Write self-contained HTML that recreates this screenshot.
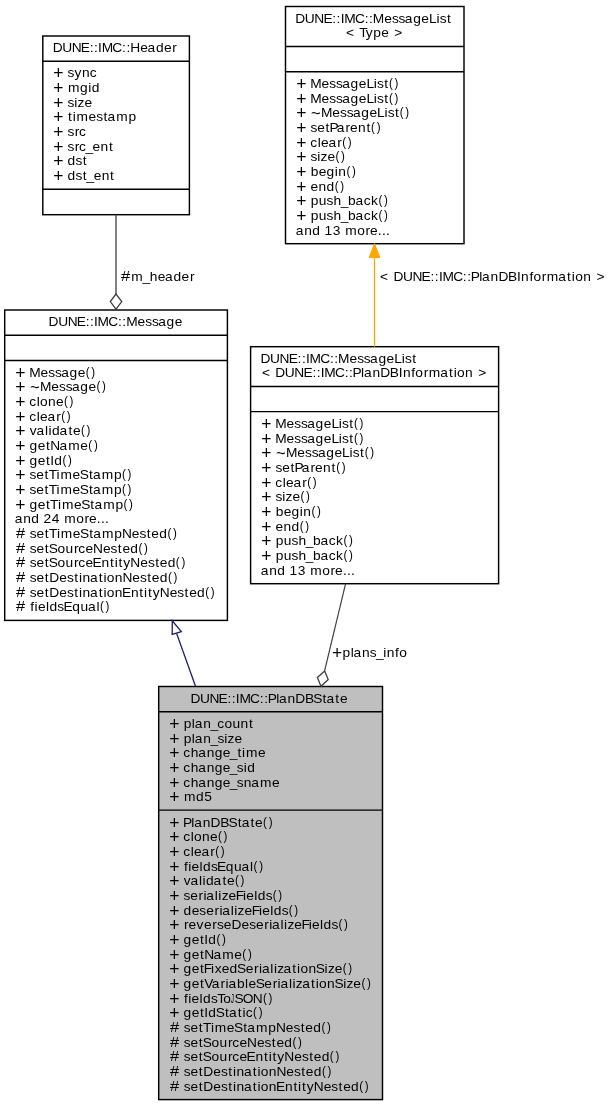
<!DOCTYPE html>
<html><head><meta charset="utf-8"><style>
html,body{margin:0;padding:0;background:#fff;}
svg{display:block;will-change:transform;}
text{font-family:"Liberation Sans",sans-serif;font-size:13.1px;}
</style></head><body>
<svg width="611" height="1107" viewBox="0 0 611 1107">
<rect x="0" y="0" width="611" height="1107" fill="#fff"/>
<rect x="42.8" y="36" width="146.60" height="178.70" fill="#fff" stroke="#000" stroke-width="1.45"/>
<line x1="42.8" y1="61.2" x2="189.4" y2="61.2" stroke="#000" stroke-width="1.45"/>
<line x1="42.8" y1="189.3" x2="189.4" y2="189.3" stroke="#000" stroke-width="1.45"/>
<text transform="scale(1.05,1)" x="50.14 59.26 68.27 76.98 85.48 89.58 93.42 96.83 106.98 116.27 120.37 124.08 133.51 140.50 148.49 156.19 164.10" y="52" fill="#000">DUNE::IMC::Header</text>
<text x="53.14" y="78.54" style="font-size:17.5px" fill="#000">+</text>
<text transform="scale(1.05,1)" x="64.19 70.87 77.99 85.39" y="77" fill="#000">sync</text>
<text x="53.14" y="93.54" style="font-size:17.5px" fill="#000">+</text>
<text transform="scale(1.05,1)" x="64.71 76.21 84.03 87.32" y="92" fill="#000">mgid</text>
<text x="53.14" y="108.54" style="font-size:17.5px" fill="#000">+</text>
<text transform="scale(1.05,1)" x="64.19 70.79 73.91 80.44" y="107" fill="#000">size</text>
<text x="53.14" y="122.54" style="font-size:17.5px" fill="#000">+</text>
<text transform="scale(1.05,1)" x="64.74 69.22 72.86 84.34 91.69 98.58 102.44 110.78 122.43" y="121" fill="#000">timestamp</text>
<text x="53.14" y="137.54" style="font-size:17.5px" fill="#000">+</text>
<text transform="scale(1.05,1)" x="64.19 71.09 75.21" y="136" fill="#000">src</text>
<text x="53.14" y="152.54" style="font-size:17.5px" fill="#000">+</text>
<text transform="scale(1.05,1)" x="64.19 71.09 75.21 81.40 88.19 95.79 103.80" y="151" fill="#000">src_ent</text>
<text x="53.14" y="166.54" style="font-size:17.5px" fill="#000">+</text>
<text transform="scale(1.05,1)" x="64.36 71.91 78.81" y="165" fill="#000">dst</text>
<text x="53.14" y="181.54" style="font-size:17.5px" fill="#000">+</text>
<text transform="scale(1.05,1)" x="64.36 71.91 78.81 82.47 89.26 96.86 104.87" y="180" fill="#000">dst_ent</text>
<rect x="285.5" y="6.5" width="178.50" height="237.20" fill="#fff" stroke="#000" stroke-width="1.45"/>
<line x1="285.5" y1="46.5" x2="464.0" y2="46.5" stroke="#000" stroke-width="1.45"/>
<line x1="285.5" y1="71.8" x2="464.0" y2="71.8" stroke="#000" stroke-width="1.45"/>
<text transform="scale(1.05,1)" x="281.16 290.28 299.29 308.00 316.50 320.60 324.44 327.85 338.00 347.29 351.39 355.05 365.88 373.23 379.57 385.55 393.54 401.24 408.59 415.62 418.75 425.64" y="23" fill="#000">DUNE::IMC::MessageList</text>
<text transform="scale(1.05,1)" x="329.60 342.12 348.26 355.43 362.99 375.49" y="37" fill="#000">&lt;Type&gt;</text>
<text x="296.14" y="89.54" style="font-size:17.5px" fill="#000">+</text>
<text transform="scale(0.95,1)" x="409.52" y="86.8" style="font-size:12.2px" fill="#000">(</text>
<text transform="scale(0.95,1)" x="415.37" y="86.8" style="font-size:12.2px" fill="#000">)</text>
<text transform="scale(1.05,1)" x="295.43 306.26 313.61 319.95 325.93 333.92 341.62 348.97 356.00 359.13 366.02" y="88" fill="#000">MessageList</text>
<text x="296.14" y="104.54" style="font-size:17.5px" fill="#000">+</text>
<text transform="scale(0.95,1)" x="409.52" y="101.8" style="font-size:12.2px" fill="#000">(</text>
<text transform="scale(0.95,1)" x="415.37" y="101.8" style="font-size:12.2px" fill="#000">)</text>
<text transform="scale(1.05,1)" x="295.43 306.26 313.61 319.95 325.93 333.92 341.62 348.97 356.00 359.13 366.02" y="103" fill="#000">MessageList</text>
<text x="296.14" y="118.54" style="font-size:17.5px" fill="#000">+</text>
<text transform="scale(1.0,1)" x="310.95" y="118.5" style="font-size:16.5px" fill="#000">~</text>
<text transform="scale(0.95,1)" x="420.79" y="115.8" style="font-size:12.2px" fill="#000">(</text>
<text transform="scale(0.95,1)" x="426.65" y="115.8" style="font-size:12.2px" fill="#000">)</text>
<text transform="scale(1.05,1)" x="305.63 316.46 323.81 330.15 336.13 344.11 351.82 359.17 366.20 369.32 376.22" y="117" fill="#000">MessageList</text>
<text x="296.14" y="133.54" style="font-size:17.5px" fill="#000">+</text>
<text transform="scale(0.95,1)" x="390.67" y="130.8" style="font-size:12.2px" fill="#000">(</text>
<text transform="scale(0.95,1)" x="396.52" y="130.8" style="font-size:12.2px" fill="#000">)</text>
<text transform="scale(1.05,1)" x="295.62 302.10 310.00 313.74 320.65 329.04 333.35 340.95 348.96" y="132" fill="#000">setParent</text>
<text x="296.14" y="148.54" style="font-size:17.5px" fill="#000">+</text>
<text transform="scale(0.95,1)" x="360.23" y="145.8" style="font-size:12.2px" fill="#000">(</text>
<text transform="scale(0.95,1)" x="366.08" y="145.8" style="font-size:12.2px" fill="#000">)</text>
<text transform="scale(1.05,1)" x="295.56 302.56 305.83 312.82 321.20" y="147" fill="#000">clear</text>
<text x="296.14" y="162.54" style="font-size:17.5px" fill="#000">+</text>
<text transform="scale(0.95,1)" x="353.13" y="159.8" style="font-size:12.2px" fill="#000">(</text>
<text transform="scale(0.95,1)" x="358.98" y="159.8" style="font-size:12.2px" fill="#000">)</text>
<text transform="scale(1.05,1)" x="295.62 302.22 305.34 311.87" y="161" fill="#000">size</text>
<text x="296.14" y="177.54" style="font-size:17.5px" fill="#000">+</text>
<text transform="scale(0.95,1)" x="364.66" y="174.8" style="font-size:12.2px" fill="#000">(</text>
<text transform="scale(0.95,1)" x="370.52" y="174.8" style="font-size:12.2px" fill="#000">)</text>
<text transform="scale(1.05,1)" x="295.93 303.49 311.00 318.82 322.20" y="176" fill="#000">begin</text>
<text x="296.14" y="192.54" style="font-size:17.5px" fill="#000">+</text>
<text transform="scale(0.95,1)" x="352.39" y="189.8" style="font-size:12.2px" fill="#000">(</text>
<text transform="scale(0.95,1)" x="358.24" y="189.8" style="font-size:12.2px" fill="#000">)</text>
<text transform="scale(1.05,1)" x="295.76 303.36 310.99" y="191" fill="#000">end</text>
<text x="296.14" y="206.54" style="font-size:17.5px" fill="#000">+</text>
<text transform="scale(0.95,1)" x="398.34" y="203.8" style="font-size:12.2px" fill="#000">(</text>
<text transform="scale(0.95,1)" x="404.19" y="203.8" style="font-size:12.2px" fill="#000">)</text>
<text transform="scale(1.05,1)" x="295.93 303.55 311.06 317.64 324.56 331.51 338.56 346.32 353.43" y="205" fill="#000">push_back</text>
<text x="296.14" y="221.54" style="font-size:17.5px" fill="#000">+</text>
<text transform="scale(0.95,1)" x="398.34" y="218.8" style="font-size:12.2px" fill="#000">(</text>
<text transform="scale(0.95,1)" x="404.19" y="218.8" style="font-size:12.2px" fill="#000">)</text>
<text transform="scale(1.05,1)" x="295.93 303.55 311.06 317.64 324.56 331.51 338.56 346.32 353.43" y="220" fill="#000">push_back</text>
<text transform="scale(1.05,1)" x="281.75 289.83 297.45 309.05 316.88 328.75 340.19 348.10 352.42 359.89 363.76 367.63" y="235" fill="#000">and13more...</text>
<rect x="4.7" y="310.0" width="222.70" height="310.40" fill="#fff" stroke="#000" stroke-width="1.45"/>
<line x1="4.7" y1="335.2" x2="227.4" y2="335.2" stroke="#000" stroke-width="1.45"/>
<line x1="4.7" y1="360.5" x2="227.4" y2="360.5" stroke="#000" stroke-width="1.45"/>
<text transform="scale(1.05,1)" x="46.30 55.43 64.43 73.14 81.64 85.74 89.58 92.99 103.15 112.43 116.53 120.20 131.03 138.37 144.71 150.69 158.68 166.38" y="326" fill="#000">DUNE::IMC::Message</text>
<text x="15.14" y="378.54" style="font-size:17.5px" fill="#000">+</text>
<text transform="scale(0.95,1)" x="90.21" y="375.8" style="font-size:12.2px" fill="#000">(</text>
<text transform="scale(0.95,1)" x="96.07" y="375.8" style="font-size:12.2px" fill="#000">)</text>
<text transform="scale(1.05,1)" x="27.81 38.64 45.99 52.33 58.31 66.30 74.00" y="377" fill="#000">Message</text>
<text x="15.14" y="392.54" style="font-size:17.5px" fill="#000">+</text>
<text transform="scale(1.0,1)" x="29.95" y="392.5" style="font-size:16.5px" fill="#000">~</text>
<text transform="scale(0.95,1)" x="101.49" y="389.8" style="font-size:12.2px" fill="#000">(</text>
<text transform="scale(0.95,1)" x="107.34" y="389.8" style="font-size:12.2px" fill="#000">)</text>
<text transform="scale(1.05,1)" x="38.01 48.84 56.19 62.53 68.51 76.50 84.20" y="391" fill="#000">Message</text>
<text x="15.14" y="407.54" style="font-size:17.5px" fill="#000">+</text>
<text transform="scale(0.95,1)" x="67.42" y="404.8" style="font-size:12.2px" fill="#000">(</text>
<text transform="scale(0.95,1)" x="73.28" y="404.8" style="font-size:12.2px" fill="#000">)</text>
<text transform="scale(1.05,1)" x="27.94 34.94 38.17 45.78 53.38" y="406" fill="#000">clone</text>
<text x="15.14" y="422.54" style="font-size:17.5px" fill="#000">+</text>
<text transform="scale(0.95,1)" x="64.44" y="419.8" style="font-size:12.2px" fill="#000">(</text>
<text transform="scale(0.95,1)" x="70.29" y="419.8" style="font-size:12.2px" fill="#000">)</text>
<text transform="scale(1.05,1)" x="27.94 34.94 38.22 45.20 53.58" y="421" fill="#000">clear</text>
<text x="15.14" y="436.54" style="font-size:17.5px" fill="#000">+</text>
<text transform="scale(0.95,1)" x="85.27" y="433.8" style="font-size:12.2px" fill="#000">(</text>
<text transform="scale(0.95,1)" x="91.12" y="433.8" style="font-size:12.2px" fill="#000">)</text>
<text transform="scale(1.05,1)" x="28.34 34.84 42.91 46.30 49.59 56.79 65.16 69.52" y="435" fill="#000">validate</text>
<text x="15.14" y="451.54" style="font-size:17.5px" fill="#000">+</text>
<text transform="scale(0.95,1)" x="93.03" y="448.8" style="font-size:12.2px" fill="#000">(</text>
<text transform="scale(0.95,1)" x="98.89" y="448.8" style="font-size:12.2px" fill="#000">)</text>
<text transform="scale(1.05,1)" x="28.17 35.87 43.76 47.82 56.73 65.07 76.55" y="450" fill="#000">getName</text>
<text x="15.14" y="466.54" style="font-size:17.5px" fill="#000">+</text>
<text transform="scale(0.95,1)" x="65.85" y="463.8" style="font-size:12.2px" fill="#000">(</text>
<text transform="scale(0.95,1)" x="71.71" y="463.8" style="font-size:12.2px" fill="#000">)</text>
<text transform="scale(1.05,1)" x="28.17 35.87 43.76 47.98 51.74" y="465" fill="#000">getId</text>
<text x="15.14" y="480.54" style="font-size:17.5px" fill="#000">+</text>
<text transform="scale(0.95,1)" x="128.44" y="477.8" style="font-size:12.2px" fill="#000">(</text>
<text transform="scale(0.95,1)" x="134.29" y="477.8" style="font-size:12.2px" fill="#000">)</text>
<text transform="scale(1.05,1)" x="28.00 34.48 42.38 46.34 53.92 57.56 69.04 75.96 84.66 88.52 96.87 108.51" y="479" fill="#000">setTimeStamp</text>
<text x="15.14" y="495.54" style="font-size:17.5px" fill="#000">+</text>
<text transform="scale(0.95,1)" x="128.44" y="492.8" style="font-size:12.2px" fill="#000">(</text>
<text transform="scale(0.95,1)" x="134.29" y="492.8" style="font-size:12.2px" fill="#000">)</text>
<text transform="scale(1.05,1)" x="28.00 34.48 42.38 46.34 53.92 57.56 69.04 75.96 84.66 88.52 96.87 108.51" y="494" fill="#000">setTimeStamp</text>
<text x="15.14" y="510.54" style="font-size:17.5px" fill="#000">+</text>
<text transform="scale(0.95,1)" x="129.97" y="507.8" style="font-size:12.2px" fill="#000">(</text>
<text transform="scale(0.95,1)" x="135.82" y="507.8" style="font-size:12.2px" fill="#000">)</text>
<text transform="scale(1.05,1)" x="28.17 35.87 43.76 47.72 55.30 58.95 70.43 77.35 86.05 89.91 98.25 109.90" y="509" fill="#000">getTimeStamp</text>
<text transform="scale(1.05,1)" x="14.13 22.21 29.83 41.34 49.24 61.14 72.57 80.48 84.80 92.27 96.14 100.01" y="523" fill="#000">and24more...</text>
<text transform="scale(1.127,1)" x="14.13" y="538" style="font-size:14.6px" fill="#000">#</text>
<text transform="scale(0.95,1)" x="176.26" y="536.8" style="font-size:12.2px" fill="#000">(</text>
<text transform="scale(0.95,1)" x="182.12" y="536.8" style="font-size:12.2px" fill="#000">)</text>
<text transform="scale(1.05,1)" x="28.35 34.83 42.73 46.69 54.27 57.91 69.39 76.31 85.01 88.87 97.22 108.86 116.11 125.53 132.87 139.76 144.13 151.64" y="538" fill="#000">setTimeStampNested</text>
<text transform="scale(1.127,1)" x="14.13" y="553" style="font-size:14.6px" fill="#000">#</text>
<text transform="scale(0.95,1)" x="145.84" y="551.8" style="font-size:12.2px" fill="#000">(</text>
<text transform="scale(0.95,1)" x="151.70" y="551.8" style="font-size:12.2px" fill="#000">)</text>
<text transform="scale(1.05,1)" x="28.35 34.83 42.73 46.53 54.78 62.33 70.40 74.52 81.41 88.59 98.00 105.35 112.24 116.60 124.12" y="553" fill="#000">setSourceNested</text>
<text transform="scale(1.127,1)" x="14.13" y="567" style="font-size:14.6px" fill="#000">#</text>
<text transform="scale(0.95,1)" x="185.12" y="565.8" style="font-size:12.2px" fill="#000">(</text>
<text transform="scale(0.95,1)" x="190.97" y="565.8" style="font-size:12.2px" fill="#000">)</text>
<text transform="scale(1.05,1)" x="28.35 34.83 42.73 46.53 54.78 62.33 70.40 74.52 81.41 88.20 96.70 104.71 109.19 112.86 117.43 124.12 133.54 140.88 147.77 152.14 159.65" y="567" fill="#000">setSourceEntityNested</text>
<text transform="scale(1.127,1)" x="14.13" y="582" style="font-size:14.6px" fill="#000">#</text>
<text transform="scale(0.95,1)" x="176.84" y="580.8" style="font-size:12.2px" fill="#000">(</text>
<text transform="scale(0.95,1)" x="182.69" y="580.8" style="font-size:12.2px" fill="#000">)</text>
<text transform="scale(1.05,1)" x="28.35 34.83 42.73 46.94 56.47 63.81 70.70 75.18 78.56 85.66 94.03 98.51 101.73 109.34 116.63 126.04 133.39 140.28 144.64 152.16" y="582" fill="#000">setDestinationNested</text>
<text transform="scale(1.127,1)" x="14.13" y="597" style="font-size:14.6px" fill="#000">#</text>
<text transform="scale(0.95,1)" x="216.11" y="595.8" style="font-size:12.2px" fill="#000">(</text>
<text transform="scale(0.95,1)" x="221.96" y="595.8" style="font-size:12.2px" fill="#000">)</text>
<text transform="scale(1.05,1)" x="28.35 34.83 42.73 46.94 56.47 63.81 70.70 75.18 78.56 85.66 94.03 98.51 101.73 109.34 116.24 124.74 132.75 137.23 140.90 145.47 152.16 161.58 168.92 175.81 180.18 187.69" y="597" fill="#000">setDestinationEntityNested</text>
<text transform="scale(1.127,1)" x="14.13" y="611" style="font-size:14.6px" fill="#000">#</text>
<text transform="scale(0.95,1)" x="105.22" y="609.8" style="font-size:12.2px" fill="#000">(</text>
<text transform="scale(0.95,1)" x="111.08" y="609.8" style="font-size:12.2px" fill="#000">)</text>
<text transform="scale(1.05,1)" x="28.84 32.89 36.16 43.76 47.05 54.61 60.40 68.81 76.57 83.72 91.79" y="611" fill="#000">fieldsEqual</text>
<rect x="250.6" y="346.7" width="248.00" height="237.00" fill="#fff" stroke="#000" stroke-width="1.45"/>
<line x1="250.6" y1="386.5" x2="498.6" y2="386.5" stroke="#000" stroke-width="1.45"/>
<line x1="250.6" y1="411.6" x2="498.6" y2="411.6" stroke="#000" stroke-width="1.45"/>
<text transform="scale(1.05,1)" x="248.11 257.24 266.24 274.95 283.45 287.55 291.39 294.80 304.96 314.24 318.34 322.00 332.83 340.18 346.52 352.50 360.49 368.19 375.54 382.58 385.70 392.59" y="363" fill="#000">DUNE::IMC::MessageList</text>
<text transform="scale(1.05,1)" x="249.41 262.18 271.30 280.31 289.02 297.52 301.62 305.46 308.87 319.02 328.31 332.41 335.77 343.85 346.62 354.70 362.14 371.32 379.87 383.72 391.67 395.56 403.47 408.22 419.19 427.56 432.05 435.27 442.87 455.49" y="377" fill="#000">&lt;DUNE::IMC::PlanDBInformation&gt;</text>
<text x="261.14" y="429.54" style="font-size:17.5px" fill="#000">+</text>
<text transform="scale(0.95,1)" x="372.68" y="426.8" style="font-size:12.2px" fill="#000">(</text>
<text transform="scale(0.95,1)" x="378.53" y="426.8" style="font-size:12.2px" fill="#000">)</text>
<text transform="scale(1.05,1)" x="262.10 272.93 280.27 286.62 292.59 300.58 308.28 315.64 322.67 325.79 332.68" y="428" fill="#000">MessageList</text>
<text x="261.14" y="444.54" style="font-size:17.5px" fill="#000">+</text>
<text transform="scale(0.95,1)" x="372.68" y="441.8" style="font-size:12.2px" fill="#000">(</text>
<text transform="scale(0.95,1)" x="378.53" y="441.8" style="font-size:12.2px" fill="#000">)</text>
<text transform="scale(1.05,1)" x="262.10 272.93 280.27 286.62 292.59 300.58 308.28 315.64 322.67 325.79 332.68" y="443" fill="#000">MessageList</text>
<text x="261.14" y="458.54" style="font-size:17.5px" fill="#000">+</text>
<text transform="scale(1.0,1)" x="275.95" y="458.5" style="font-size:16.5px" fill="#000">~</text>
<text transform="scale(0.95,1)" x="383.95" y="455.8" style="font-size:12.2px" fill="#000">(</text>
<text transform="scale(0.95,1)" x="389.80" y="455.8" style="font-size:12.2px" fill="#000">)</text>
<text transform="scale(1.05,1)" x="272.30 283.13 290.47 296.81 302.79 310.78 318.48 325.84 332.87 335.99 342.88" y="457" fill="#000">MessageList</text>
<text x="261.14" y="473.54" style="font-size:17.5px" fill="#000">+</text>
<text transform="scale(0.95,1)" x="353.83" y="470.8" style="font-size:12.2px" fill="#000">(</text>
<text transform="scale(0.95,1)" x="359.68" y="470.8" style="font-size:12.2px" fill="#000">)</text>
<text transform="scale(1.05,1)" x="262.28 268.77 276.66 280.40 287.32 295.70 300.02 307.62 315.63" y="472" fill="#000">setParent</text>
<text x="261.14" y="488.54" style="font-size:17.5px" fill="#000">+</text>
<text transform="scale(0.95,1)" x="323.39" y="485.8" style="font-size:12.2px" fill="#000">(</text>
<text transform="scale(0.95,1)" x="329.24" y="485.8" style="font-size:12.2px" fill="#000">)</text>
<text transform="scale(1.05,1)" x="262.23 269.23 272.50 279.48 287.87" y="487" fill="#000">clear</text>
<text x="261.14" y="502.54" style="font-size:17.5px" fill="#000">+</text>
<text transform="scale(0.95,1)" x="316.29" y="499.8" style="font-size:12.2px" fill="#000">(</text>
<text transform="scale(0.95,1)" x="322.14" y="499.8" style="font-size:12.2px" fill="#000">)</text>
<text transform="scale(1.05,1)" x="262.28 268.88 272.00 278.54" y="501" fill="#000">size</text>
<text x="261.14" y="517.54" style="font-size:17.5px" fill="#000">+</text>
<text transform="scale(0.95,1)" x="327.82" y="514.8" style="font-size:12.2px" fill="#000">(</text>
<text transform="scale(0.95,1)" x="333.68" y="514.8" style="font-size:12.2px" fill="#000">)</text>
<text transform="scale(1.05,1)" x="262.59 270.15 277.67 285.48 288.86" y="516" fill="#000">begin</text>
<text x="261.14" y="532.54" style="font-size:17.5px" fill="#000">+</text>
<text transform="scale(0.95,1)" x="315.54" y="529.8" style="font-size:12.2px" fill="#000">(</text>
<text transform="scale(0.95,1)" x="321.40" y="529.8" style="font-size:12.2px" fill="#000">)</text>
<text transform="scale(1.05,1)" x="262.43 270.03 277.65" y="531" fill="#000">end</text>
<text x="261.14" y="546.54" style="font-size:17.5px" fill="#000">+</text>
<text transform="scale(0.95,1)" x="361.50" y="543.8" style="font-size:12.2px" fill="#000">(</text>
<text transform="scale(0.95,1)" x="367.35" y="543.8" style="font-size:12.2px" fill="#000">)</text>
<text transform="scale(1.05,1)" x="262.59 270.22 277.72 284.30 291.22 298.18 305.23 312.99 320.09" y="545" fill="#000">push_back</text>
<text x="261.14" y="561.54" style="font-size:17.5px" fill="#000">+</text>
<text transform="scale(0.95,1)" x="361.50" y="558.8" style="font-size:12.2px" fill="#000">(</text>
<text transform="scale(0.95,1)" x="367.35" y="558.8" style="font-size:12.2px" fill="#000">)</text>
<text transform="scale(1.05,1)" x="262.59 270.22 277.72 284.30 291.22 298.18 305.23 312.99 320.09" y="560" fill="#000">push_back</text>
<text transform="scale(1.05,1)" x="248.41 256.49 264.12 275.72 283.55 295.42 306.86 314.77 319.08 326.55 330.42 334.29" y="575" fill="#000">and13more...</text>
<g class="gb">
<rect x="158.7" y="686.5" width="223.80" height="413.10" fill="#bfbfbf" stroke="#000" stroke-width="1.45"/>
<line x1="158.7" y1="711.8" x2="382.5" y2="711.8" stroke="#000" stroke-width="1.45"/>
<line x1="158.7" y1="810.1" x2="382.5" y2="810.1" stroke="#000" stroke-width="1.45"/>
<text transform="scale(1.05,1)" x="181.35 190.47 199.48 208.19 216.69 220.79 224.63 228.04 238.19 247.48 251.58 254.94 263.02 265.79 273.87 281.31 290.49 298.41 307.11 310.97 319.34 323.70" y="703" fill="#000">DUNE::IMC::PlanDBState</text>
<text x="169.14" y="729.54" style="font-size:17.5px" fill="#000">+</text>
<text transform="scale(1.05,1)" x="174.98 182.64 185.41 193.49 200.39 206.97 213.82 221.38 229.14 237.15" y="728" fill="#000">plan_count</text>
<text x="169.14" y="744.54" style="font-size:17.5px" fill="#000">+</text>
<text transform="scale(1.05,1)" x="174.98 182.64 185.41 193.49 200.39 207.03 213.63 216.75 223.29" y="743" fill="#000">plan_size</text>
<text x="169.14" y="758.54" style="font-size:17.5px" fill="#000">+</text>
<text transform="scale(1.05,1)" x="174.61 181.60 188.71 196.79 204.41 212.11 218.90 226.09 230.58 234.22 245.70" y="757" fill="#000">change_time</text>
<text x="169.14" y="773.54" style="font-size:17.5px" fill="#000">+</text>
<text transform="scale(1.05,1)" x="174.61 181.60 188.71 196.79 204.41 212.11 218.90 225.54 232.14 235.43" y="772" fill="#000">change_sid</text>
<text x="169.14" y="788.54" style="font-size:17.5px" fill="#000">+</text>
<text transform="scale(1.05,1)" x="174.61 181.60 188.71 196.79 204.41 212.11 218.90 225.54 232.14 239.24 247.58 259.06" y="787" fill="#000">change_sname</text>
<text x="169.14" y="802.54" style="font-size:17.5px" fill="#000">+</text>
<text transform="scale(1.05,1)" x="175.19 186.69 194.44" y="801" fill="#000">md5</text>
<text x="169.14" y="828.54" style="font-size:17.5px" fill="#000">+</text>
<text transform="scale(0.95,1)" x="276.94" y="825.8" style="font-size:12.2px" fill="#000">(</text>
<text transform="scale(0.95,1)" x="282.79" y="825.8" style="font-size:12.2px" fill="#000">)</text>
<text transform="scale(1.05,1)" x="174.18 182.26 185.02 193.10 200.55 209.73 217.64 226.34 230.20 238.57 242.94" y="827" fill="#000">PlanDBState</text>
<text x="169.14" y="842.54" style="font-size:17.5px" fill="#000">+</text>
<text transform="scale(0.95,1)" x="229.53" y="839.8" style="font-size:12.2px" fill="#000">(</text>
<text transform="scale(0.95,1)" x="235.38" y="839.8" style="font-size:12.2px" fill="#000">)</text>
<text transform="scale(1.05,1)" x="174.61 181.61 184.84 192.44 200.04" y="841" fill="#000">clone</text>
<text x="169.14" y="857.54" style="font-size:17.5px" fill="#000">+</text>
<text transform="scale(0.95,1)" x="226.54" y="854.8" style="font-size:12.2px" fill="#000">(</text>
<text transform="scale(0.95,1)" x="232.40" y="854.8" style="font-size:12.2px" fill="#000">)</text>
<text transform="scale(1.05,1)" x="174.61 181.61 184.88 191.87 200.25" y="856" fill="#000">clear</text>
<text x="169.14" y="872.54" style="font-size:17.5px" fill="#000">+</text>
<text transform="scale(0.95,1)" x="266.94" y="869.8" style="font-size:12.2px" fill="#000">(</text>
<text transform="scale(0.95,1)" x="272.80" y="869.8" style="font-size:12.2px" fill="#000">)</text>
<text transform="scale(1.05,1)" x="175.16 179.21 182.47 190.07 193.37 200.93 206.71 215.12 222.89 230.04 238.11" y="871" fill="#000">fieldsEqual</text>
<text x="169.14" y="886.54" style="font-size:17.5px" fill="#000">+</text>
<text transform="scale(0.95,1)" x="247.37" y="883.8" style="font-size:12.2px" fill="#000">(</text>
<text transform="scale(0.95,1)" x="253.23" y="883.8" style="font-size:12.2px" fill="#000">)</text>
<text transform="scale(1.05,1)" x="175.01 181.51 189.58 192.97 196.26 203.45 211.82 216.19" y="885" fill="#000">validate</text>
<text x="169.14" y="901.54" style="font-size:17.5px" fill="#000">+</text>
<text transform="scale(0.95,1)" x="287.03" y="898.8" style="font-size:12.2px" fill="#000">(</text>
<text transform="scale(0.95,1)" x="292.88" y="898.8" style="font-size:12.2px" fill="#000">)</text>
<text transform="scale(1.05,1)" x="174.67 181.15 189.06 193.76 196.52 204.59 207.98 211.10 217.63 224.46 231.35 234.62 242.22 245.51 253.07" y="900" fill="#000">serializeFields</text>
<text x="169.14" y="916.54" style="font-size:17.5px" fill="#000">+</text>
<text transform="scale(0.95,1)" x="303.84" y="913.8" style="font-size:12.2px" fill="#000">(</text>
<text transform="scale(0.95,1)" x="309.70" y="913.8" style="font-size:12.2px" fill="#000">)</text>
<text transform="scale(1.05,1)" x="174.83 182.53 189.88 196.36 204.27 208.97 211.73 219.81 223.19 226.31 232.85 239.68 246.57 249.83 257.43 260.73 268.29" y="915" fill="#000">deserializeFields</text>
<text x="169.14" y="930.54" style="font-size:17.5px" fill="#000">+</text>
<text transform="scale(0.95,1)" x="356.23" y="927.8" style="font-size:12.2px" fill="#000">(</text>
<text transform="scale(0.95,1)" x="362.08" y="927.8" style="font-size:12.2px" fill="#000">)</text>
<text transform="scale(1.05,1)" x="175.23 179.55 187.23 194.24 202.15 206.59 213.07 220.40 229.93 237.28 243.76 251.67 256.37 259.13 267.20 270.59 273.71 280.24 287.07 293.96 297.23 304.83 308.12 315.68" y="929" fill="#000">reverseDeserializeFields</text>
<text x="169.14" y="945.54" style="font-size:17.5px" fill="#000">+</text>
<text transform="scale(0.95,1)" x="227.96" y="942.8" style="font-size:12.2px" fill="#000">(</text>
<text transform="scale(0.95,1)" x="233.81" y="942.8" style="font-size:12.2px" fill="#000">)</text>
<text transform="scale(1.05,1)" x="174.83 182.53 190.43 194.64 198.41" y="944" fill="#000">getId</text>
<text x="169.14" y="960.54" style="font-size:17.5px" fill="#000">+</text>
<text transform="scale(0.95,1)" x="255.14" y="957.8" style="font-size:12.2px" fill="#000">(</text>
<text transform="scale(0.95,1)" x="260.99" y="957.8" style="font-size:12.2px" fill="#000">)</text>
<text transform="scale(1.05,1)" x="174.83 182.53 190.43 194.49 203.39 211.74 223.21" y="959" fill="#000">getName</text>
<text x="169.14" y="974.54" style="font-size:17.5px" fill="#000">+</text>
<text transform="scale(0.95,1)" x="360.80" y="971.8" style="font-size:12.2px" fill="#000">(</text>
<text transform="scale(0.95,1)" x="366.66" y="971.8" style="font-size:12.2px" fill="#000">)</text>
<text transform="scale(1.05,1)" x="174.83 182.53 190.43 194.14 201.03 204.47 211.12 218.63 225.77 234.06 241.97 246.67 249.43 257.50 260.89 264.01 270.04 278.41 282.89 286.12 293.72 300.75 309.16 312.28 318.82" y="973" fill="#000">getFixedSerializationSize</text>
<text x="169.14" y="989.54" style="font-size:17.5px" fill="#000">+</text>
<text transform="scale(0.95,1)" x="380.41" y="986.8" style="font-size:12.2px" fill="#000">(</text>
<text transform="scale(0.95,1)" x="386.26" y="986.8" style="font-size:12.2px" fill="#000">)</text>
<text transform="scale(1.05,1)" x="174.83 182.53 190.43 194.46 201.67 210.06 214.75 217.52 225.65 233.31 236.59 243.51 251.80 259.71 264.41 267.17 275.24 278.63 281.75 287.78 296.15 300.63 303.86 311.46 318.49 326.90 330.02 336.56" y="988" fill="#000">getVariableSerializationSize</text>
<text x="169.14" y="1004.54" style="font-size:17.5px" fill="#000">+</text>
<text transform="scale(0.5,1)" x="461.66" y="1003.0" style="font-size:13.1px" fill="#000">J</text>
<text transform="scale(0.95,1)" x="276.72" y="1001.8" style="font-size:12.2px" fill="#000">(</text>
<text transform="scale(0.95,1)" x="282.57" y="1001.8" style="font-size:12.2px" fill="#000">)</text>
<text transform="scale(1.05,1)" x="175.16 179.21 182.47 190.07 193.37 200.93 207.01 212.74 223.25 231.11 240.81" y="1003" fill="#000">fieldsToSON</text>
<text x="169.14" y="1018.54" style="font-size:17.5px" fill="#000">+</text>
<text transform="scale(0.95,1)" x="266.42" y="1015.8" style="font-size:12.2px" fill="#000">(</text>
<text transform="scale(0.95,1)" x="272.28" y="1015.8" style="font-size:12.2px" fill="#000">)</text>
<text transform="scale(1.05,1)" x="174.83 182.53 190.43 194.64 198.41 205.54 214.24 218.10 226.47 230.96 234.02" y="1017" fill="#000">getIdStatic</text>
<text transform="scale(1.127,1)" x="150.79" y="1032" style="font-size:14.6px" fill="#000">#</text>
<text transform="scale(0.95,1)" x="338.37" y="1030.8" style="font-size:12.2px" fill="#000">(</text>
<text transform="scale(0.95,1)" x="344.22" y="1030.8" style="font-size:12.2px" fill="#000">)</text>
<text transform="scale(1.05,1)" x="175.02 181.50 189.40 193.35 200.94 204.58 216.06 222.98 231.68 235.54 243.88 255.53 262.78 272.19 279.54 286.43 290.79 298.31" y="1032" fill="#000">setTimeStampNested</text>
<text transform="scale(1.127,1)" x="150.79" y="1047" style="font-size:14.6px" fill="#000">#</text>
<text transform="scale(0.95,1)" x="307.95" y="1045.8" style="font-size:12.2px" fill="#000">(</text>
<text transform="scale(0.95,1)" x="313.80" y="1045.8" style="font-size:12.2px" fill="#000">)</text>
<text transform="scale(1.05,1)" x="175.02 181.50 189.40 193.19 201.44 209.00 217.07 221.18 228.08 235.26 244.67 252.01 258.91 263.27 270.78" y="1047" fill="#000">setSourceNested</text>
<text transform="scale(1.127,1)" x="150.79" y="1061" style="font-size:14.6px" fill="#000">#</text>
<text transform="scale(0.95,1)" x="347.22" y="1059.8" style="font-size:12.2px" fill="#000">(</text>
<text transform="scale(0.95,1)" x="353.08" y="1059.8" style="font-size:12.2px" fill="#000">)</text>
<text transform="scale(1.05,1)" x="175.02 181.50 189.40 193.19 201.44 209.00 217.07 221.18 228.08 234.87 243.37 251.38 255.86 259.53 264.09 270.79 280.20 287.55 294.44 298.80 306.32" y="1061" fill="#000">setSourceEntityNested</text>
<text transform="scale(1.127,1)" x="150.79" y="1076" style="font-size:14.6px" fill="#000">#</text>
<text transform="scale(0.95,1)" x="338.94" y="1074.8" style="font-size:12.2px" fill="#000">(</text>
<text transform="scale(0.95,1)" x="344.80" y="1074.8" style="font-size:12.2px" fill="#000">)</text>
<text transform="scale(1.05,1)" x="175.02 181.50 189.40 193.60 203.13 210.48 217.37 221.85 225.23 232.33 240.70 245.18 248.40 256.00 263.30 272.71 280.05 286.95 291.31 298.82" y="1076" fill="#000">setDestinationNested</text>
<text transform="scale(1.127,1)" x="150.79" y="1091" style="font-size:14.6px" fill="#000">#</text>
<text transform="scale(0.95,1)" x="378.22" y="1089.8" style="font-size:12.2px" fill="#000">(</text>
<text transform="scale(0.95,1)" x="384.07" y="1089.8" style="font-size:12.2px" fill="#000">)</text>
<text transform="scale(1.05,1)" x="175.02 181.50 189.40 193.60 203.13 210.48 217.37 221.85 225.23 232.33 240.70 245.18 248.40 256.00 262.91 271.41 279.42 283.90 287.57 292.13 298.83 308.24 315.59 322.48 326.84 334.36" y="1091" fill="#000">setDestinationEntityNested</text>
</g>
<line x1="116" y1="214.5" x2="116" y2="294" stroke="#404040" stroke-width="1.3"/>
<polygon points="116,294 110.3,301.6 116,309.2 121.8,301.6" fill="#fff" stroke="#404040" stroke-width="1.3"/>
<text transform="scale(1.127,1)" x="107.31" y="281" style="font-size:14.6px" fill="#000">#</text>
<text transform="scale(1.05,1)" x="125.00 135.78 142.66 150.28 157.26 165.25 172.95 180.86" y="281" fill="#000">m_header</text>
<line x1="374.5" y1="257" x2="374.5" y2="346.7" stroke="#ffa500" stroke-width="1.3"/>
<polygon points="374.5,243.7 369.2,257.6 379.9,257.6" fill="#ffa500" stroke="#ffa500" stroke-width="1"/>
<text transform="scale(1.05,1)" x="361.94 374.71 383.84 392.84 401.55 410.05 414.15 417.99 421.40 431.56 440.84 444.94 448.31 456.38 459.15 467.23 474.67 483.86 492.40 496.25 504.20 508.10 516.01 520.75 531.73 540.10 544.58 547.80 555.41 568.02" y="281" fill="#000">&lt;DUNE::IMC::PlanDBInformation&gt;</text>
<line x1="176.6" y1="633.4" x2="195.6" y2="686.5" stroke="#191970" stroke-width="1.3"/>
<polygon points="172.3,620.8 172.2,634.4 181.3,631.7" fill="#fff" stroke="#191970" stroke-width="1.3"/>
<line x1="345.6" y1="583.7" x2="324.6" y2="670.9" stroke="#404040" stroke-width="1.2"/>
<polygon points="324.6,670.9 317.4,677.4 321.0,686.3 328.2,679.6" fill="#fff" stroke="#404040" stroke-width="1.3"/>
<text x="332.09" y="658.54" style="font-size:17.5px" fill="#000">+</text>
<text transform="scale(1.05,1)" x="326.30 333.97 336.73 344.81 352.27 358.05 364.95 368.33 376.28 380.18" y="657" fill="#000">plans_info</text>
</svg>
</body></html>
